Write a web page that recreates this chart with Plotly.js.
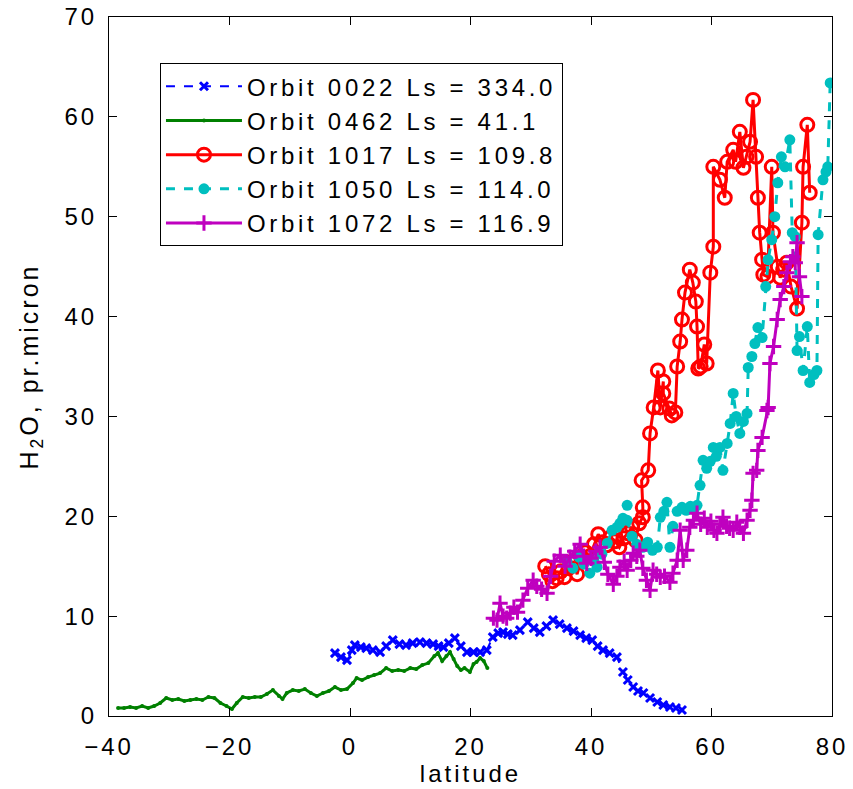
<!DOCTYPE html>
<html><head><meta charset="utf-8">
<script src="https://cdn.plot.ly/plotly-3.0.1.min.js"></script>
<style>
body{margin:0;background:#fff}
#plot{width:853px;height:789px}
text{letter-spacing:3px}
text.legendtext{letter-spacing:3.7px}
</style>
</head><body><div id="plot"></div>
<script>
// Orbit 0022 Ls = 334.0
const lat0022 = [-2.5,-1.5,-0.5,0.3,0.8,1.8,2.7,3.8,5.0,6.0,7.1,8.2,9.3,10.4,11.6,12.7,13.8,14.7,15.5,16.4,17.4,18.4,19.4,20.5,21.6,22.7,23.7,24.6,25.4,26.2,27.0,28.2,29.5,30.5,31.5,32.6,33.7,34.8,36.0,37.1,38.2,39.2,40.2,41.1,42.0,43.1,44.3,45.3,46.1,47.0,47.8,48.7,49.8,51.0,52.0,53.1,54.1,55.1];
const h2o0022 = [6.3,5.9,5.6,6.6,7.1,6.9,6.8,6.6,6.4,7.0,7.6,7.2,7.1,7.3,7.4,7.3,7.2,7.0,6.9,7.3,7.8,7.0,6.4,6.4,6.4,6.6,7.9,8.3,8.4,8.2,8.1,8.6,9.4,8.8,8.4,9.0,9.6,9.2,8.8,8.5,8.1,7.8,7.6,7.0,6.6,6.3,5.9,4.4,3.6,2.9,2.5,2.3,1.8,1.4,1.1,0.9,0.8,0.6];
// Orbit 0462 Ls = 41.1
const lat0462 = [-38.5,-37.5,-36.5,-35.5,-34.5,-33.5,-32.5,-31.5,-30.5,-29.5,-28.5,-27.5,-26.5,-25.5,-24.5,-23.5,-22.5,-21.5,-20.5,-19.6,-18.8,-17.8,-16.8,-15.8,-14.8,-13.8,-12.8,-11.8,-11.2,-10.5,-9.5,-8.5,-7.5,-6.5,-5.5,-4.5,-3.5,-2.5,-1.5,-0.5,0.5,1.1,2.0,3.0,4.0,5.0,6.0,7.0,8.0,9.0,10.0,11.0,12.0,13.0,14.0,14.6,15.3,16.0,16.6,17.2,17.8,18.4,19.0,19.9,20.5,21.0,21.6,22.2,22.8];
const h2o0462 = [0.8,0.8,0.9,0.8,1.0,0.8,1.0,1.3,1.8,1.6,1.7,1.5,1.6,1.7,1.6,1.9,1.8,1.3,1.0,0.7,1.3,1.9,1.8,1.9,1.9,2.2,2.6,2.0,1.7,2.3,2.6,2.5,2.7,2.3,2.0,2.3,2.5,2.9,2.6,2.7,3.3,3.8,3.6,3.9,4.1,4.3,4.8,4.5,4.6,4.5,4.8,4.7,5.1,5.3,6.0,6.3,5.5,6.0,6.4,5.7,5.0,4.6,4.8,4.4,5.2,5.4,5.8,5.5,4.8];
// Orbit 1017 Ls = 109.8
const lat1017 = [32.4,33.0,33.6,34.3,35.0,35.6,36.3,37.0,37.7,38.4,39.1,39.8,40.5,41.2,41.9,42.6,43.3,44.0,44.7,45.4,46.1,46.8,47.4,48.0,48.6,48.6,48.4,49.5,49.8,50.4,51.1,51.5,52.0,52.0,53.0,53.4,54.0,54.3,54.8,55.1,55.6,56.4,56.9,57.4,57.6,57.8,58.2,58.8,59.2,59.8,60.3,60.3,61.4,62.2,62.6,63.6,64.0,64.7,65.3,65.8,66.4,66.9,67.4,67.7,68.0,68.4,68.6,69.3,70.0,70.2,71.0,71.4,71.9,72.5,73.2,74.2,75.0,75.2,75.9,76.3];
const h2o1017 = [15.0,14.2,13.5,13.8,14.5,13.9,14.8,15.5,14.2,15.8,16.4,16.0,17.2,18.2,17.4,17.1,17.9,17.5,16.9,17.8,18.3,18.9,17.6,19.3,19.9,20.9,23.6,24.6,28.3,30.9,34.6,30.9,33.5,32.3,30.8,30.1,30.4,35.0,37.5,39.7,42.4,44.7,43.4,41.5,39.0,34.8,35.0,37.2,35.3,44.4,47.0,55.0,53.7,51.9,55.5,56.7,55.5,58.5,54.9,56.0,57.5,61.7,56.0,51.9,48.4,45.7,44.2,44.0,55.0,48.4,45.0,43.9,44.7,45.4,43.0,40.8,49.4,55.0,59.2,52.4];
// Orbit 1050 Ls = 114.0
const lat1050 = [36.0,37.0,38.0,38.8,39.8,40.5,41.0,41.8,42.7,43.5,44.3,44.8,45.3,46.0,46.0,46.8,47.6,48.6,49.4,50.2,51.0,51.5,52.1,52.6,53.1,53.6,54.3,55.1,55.8,56.5,57.1,57.6,58.1,58.6,59.2,59.8,60.3,60.8,61.4,61.9,62.6,63.1,63.6,64.1,64.7,65.3,65.9,66.1,66.7,67.2,67.7,68.4,69.0,69.4,70.0,70.5,71.0,71.6,72.2,73.0,73.4,73.9,74.2,74.6,75.2,75.9,76.3,77.0,77.5,77.7,78.5,79.0,79.3,79.7];
const h2o1050 = [15.5,14.8,15.9,15.2,14.3,15.5,14.9,16.2,17.3,18.6,18.9,19.3,19.8,21.1,19.6,18.0,17.2,16.9,17.4,16.6,16.9,19.9,20.5,21.4,16.9,19.0,20.5,20.9,20.6,21.0,20.7,21.1,23.1,25.6,24.8,25.5,26.9,26.0,26.9,24.6,27.3,29.3,32.3,30.0,28.3,29.5,30.3,34.9,36.0,37.3,38.9,37.9,43.0,45.7,47.7,50.0,53.4,56.0,55.0,57.7,48.4,48.0,36.6,38.0,34.6,39.0,33.4,34.2,34.6,48.2,53.7,54.5,55.0,63.4];
// Orbit 1072 Ls = 116.9
const lat1072 = [23.8,24.4,24.9,25.4,26.0,26.6,27.2,27.8,28.7,29.5,30.4,31.0,31.8,32.7,33.3,33.9,34.9,35.7,36.5,37.3,38.2,38.8,39.3,40.0,40.8,41.5,42.2,42.8,43.7,44.3,44.8,45.5,46.0,46.6,47.0,47.6,48.1,48.6,49.2,49.8,50.3,50.9,51.5,52.2,53.1,53.6,54.3,54.8,55.3,55.9,56.4,57.0,57.6,58.2,58.8,59.3,59.9,60.4,60.9,61.4,61.9,62.5,63.0,63.6,64.2,64.7,65.3,65.9,66.4,66.7,66.9,67.5,67.7,68.4,69.2,69.4,69.7,70.3,70.9,71.4,72.0,72.5,73.1,73.5,73.9,74.2,74.6,75.0];
const h2o1072 = [9.8,9.6,11.3,10.0,9.8,10.3,10.9,10.4,11.6,12.8,13.6,13.0,12.7,12.3,14.0,15.5,16.1,15.0,15.9,16.5,17.2,16.0,15.3,15.8,16.5,16.9,15.4,14.2,13.2,14.0,14.9,15.5,14.6,15.6,16.3,16.0,16.6,14.8,13.6,12.6,14.6,14.2,13.9,14.0,13.4,14.3,15.6,18.6,15.6,16.6,18.9,19.6,20.3,19.2,19.8,18.9,19.5,18.6,18.3,19.2,19.9,19.0,18.8,18.6,19.4,18.9,18.3,19.6,20.6,21.6,24.3,24.6,26.6,27.9,30.6,30.9,35.3,37.0,39.7,41.7,43.0,44.4,45.5,46.0,45.4,47.4,44.0,42.0];

const names = ['Orbit 0022 Ls = 334.0','Orbit 0462 Ls = 41.1','Orbit 1017 Ls = 109.8','Orbit 1050 Ls = 114.0','Orbit 1072 Ls = 116.9'];
const xTickVals = [-40,-20,0,20,40,60,80];
const xTickText = ['\u221240','\u221220','0','20','40','60','80'];
const yTickVals = [0,10,20,30,40,50,60,70];

const traces = [
  {x: lat0022, y: h2o0022, name: names[0], mode:'lines+markers',
   line:{color:'#0000FF', width:2, dash:'dash'},
   marker:{symbol:'x-thin-open', size:8, color:'#0000FF', line:{color:'#0000FF', width:3}}},
  {x: lat0462, y: h2o0462, name: names[1], mode:'lines+markers',
   line:{color:'#008000', width:3},
   marker:{symbol:'circle', size:4, color:'#008000'}},
  {x: lat1017, y: h2o1017, name: names[2], mode:'lines+markers',
   line:{color:'#FF0000', width:3},
   marker:{symbol:'circle-open', size:13, color:'#FF0000', line:{color:'#FF0000', width:3}}},
  {x: lat1050, y: h2o1050, name: names[3], mode:'lines+markers',
   line:{color:'#00BFBF', width:3, dash:'dash'},
   marker:{symbol:'circle', size:11, color:'#00BFBF'}},
  {x: lat1072, y: h2o1072, name: names[4], mode:'lines+markers',
   line:{color:'#BF00BF', width:3},
   marker:{symbol:'cross-thin-open', size:11, color:'#BF00BF', line:{color:'#BF00BF', width:3}}}
];
traces.forEach((t,i)=>{t.legendgroup='g'+i;});

const FAM = 'Liberation Sans, Arial, sans-serif';
const layout = {
  width:853, height:789,
  margin:{l:109, r:21, t:17, b:73},
  paper_bgcolor:'#fff', plot_bgcolor:'#fff',
  font:{family:FAM, size:24, color:'#000'},
  showlegend:true,
  legend:{x:0.0705, y:0.934, xanchor:'left', yanchor:'top',
    bordercolor:'#000', borderwidth:1, bgcolor:'#fff',
    font:{family:FAM, size:24, color:'#000'},
    itemwidth:76, tracegroupgap:10, traceorder:'normal'},
  xaxis:{range:[-40,80], tickvals:xTickVals, ticktext:xTickText,
    ticks:'inside', ticklen:8, tickwidth:1, tickcolor:'#000',
    showline:true, linecolor:'#000', linewidth:1, mirror:'ticks',
    showgrid:false, zeroline:false, ticklabelstandoff:9,
    tickfont:{family:FAM, size:24},
    title:{text:'latitude', font:{family:FAM, size:24}, standoff:2}},
  yaxis:{range:[0,70], tickvals:yTickVals,
    ticks:'inside', ticklen:8, tickwidth:1, tickcolor:'#000',
    showline:true, linecolor:'#000', linewidth:1, mirror:'ticks',
    showgrid:false, zeroline:false, ticklabelstandoff:6,
    tickfont:{family:FAM, size:24},
    title:{text:'H<sub>2</sub>O, pr.micron', font:{family:FAM, size:25}, standoff:18}}
};
Plotly.newPlot('plot', traces, layout, {displayModeBar:false, staticPlot:true});
</script></body></html>
